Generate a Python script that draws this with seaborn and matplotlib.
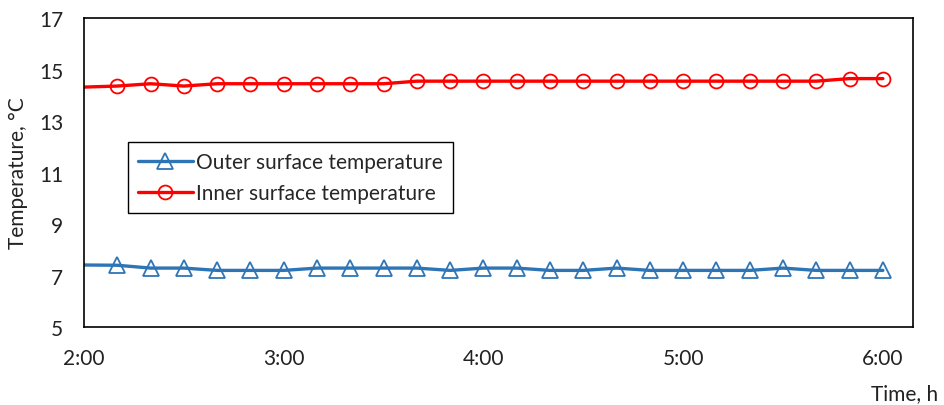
import numpy as np
import pandas as pd
import matplotlib
matplotlib.use("Agg")
import matplotlib.pyplot as plt
import seaborn as sns

# time in hours, 2:00 -> 6:00 every 10 min
time_h = [2 + i / 6 for i in range(25)]

outer_temp = [7.41, 7.40, 7.29, 7.29, 7.20, 7.20, 7.20, 7.29, 7.29, 7.29, 7.29, 7.20, 7.29,
              7.29, 7.20, 7.20, 7.29, 7.20, 7.20, 7.20, 7.20, 7.29, 7.20, 7.20, 7.20]
inner_temp = [14.32, 14.36, 14.45, 14.36, 14.45, 14.45, 14.45, 14.45, 14.45, 14.45, 14.55, 14.55, 14.55,
              14.55, 14.55, 14.55, 14.55, 14.55, 14.55, 14.55, 14.55, 14.55, 14.55, 14.65, 14.65]

xtick_pos = [2, 3, 4, 5, 6]
xtick_labels = ["2:00", "3:00", "4:00", "5:00", "6:00"]
ytick_pos = [5, 7, 9, 11, 13, 15, 17]

sns.set_theme(style="white")
plt.rcParams["font.family"] = ["Lato", "DejaVu Sans"]

df = pd.DataFrame({"time": time_h, "outer": outer_temp, "inner": inner_temp})

fig = plt.figure(figsize=(9.44, 4.06), dpi=100)
ax = fig.add_axes([0.089, 0.192, 0.878, 0.761])

marks = list(range(1, len(time_h)))
sns.lineplot(data=df, x="time", y="outer", ax=ax, color="#2E75B6", lw=2.4,
             marker="^", markevery=marks, markersize=11, mfc="none", mec="#2E75B6",
             mew=1.3, label="Outer surface temperature")
sns.lineplot(data=df, x="time", y="inner", ax=ax, color="#FF0000", lw=2.4,
             marker="o", markevery=marks, markersize=10, mfc="none", mec="#FF0000",
             mew=1.3, label="Inner surface temperature")

ax.set_xlim(2, 6.15)
ax.set_ylim(5, 17)
ax.set_xticks(xtick_pos)
ax.set_xticklabels(xtick_labels)
ax.set_yticks(ytick_pos)
ax.tick_params(axis="both", length=0, labelsize=15, colors="#222222")
ax.tick_params(axis="x", pad=15)
ax.tick_params(axis="y", pad=15)

for s in ax.spines.values():
    s.set_color("black")
    s.set_linewidth(1.2)

ax.set_xlabel("")
ax.set_ylabel("Temperature, °C", fontsize=15, color="#222222", labelpad=8)
fig.text(0.994, 0.03, "Time, h", ha="right", va="center", fontsize=15, color="#222222")

leg = ax.legend(loc="upper left", bbox_to_anchor=(0.053, 0.599), fontsize=15,
                frameon=True, fancybox=False, edgecolor="black", framealpha=1,
                handlelength=2.6, borderpad=0.5, labelspacing=0.5, handletextpad=0.15,
                borderaxespad=0)
leg.get_frame().set_linewidth(1.0)

fig.savefig("out.png", dpi=100)
